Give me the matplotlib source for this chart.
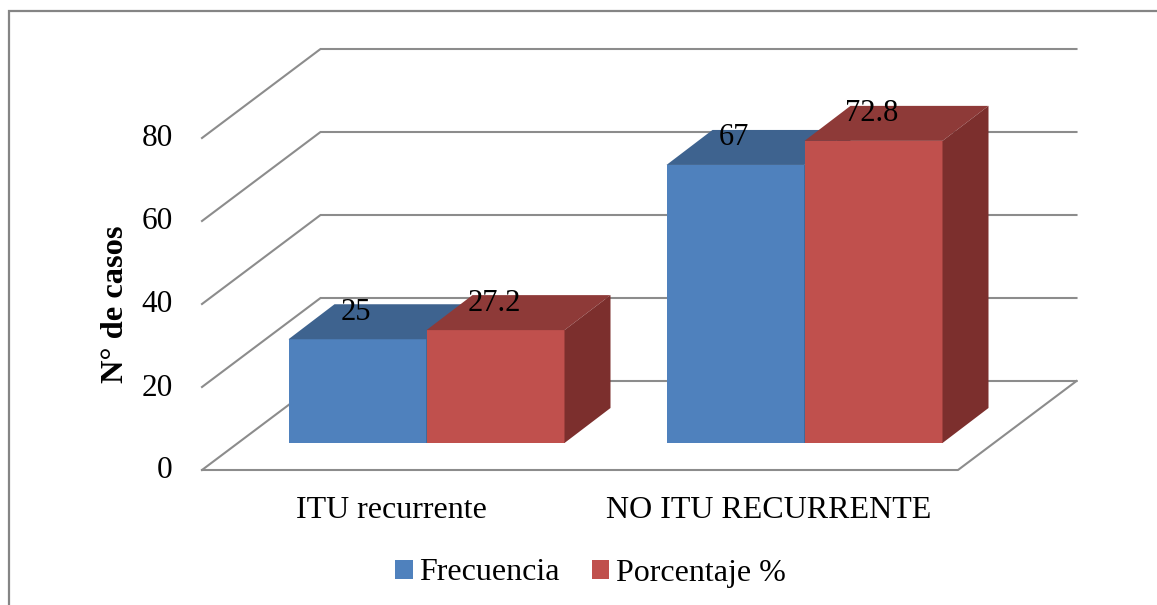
import matplotlib
matplotlib.use("Agg")
import matplotlib.pyplot as plt
from matplotlib.patches import Polygon, Rectangle, Patch
from matplotlib.transforms import ScaledTranslation

categories = ["ITU recurrente", "NO ITU RECURRENTE"]
frecuencia = [25, 67]
porcentaje = [27.2, 72.8]
yticks = [0, 20, 40, 60, 80]
series_names = ["Frecuencia", "Porcentaje %"]

W, H = 1157, 605
plt.rcParams["font.family"] = ["Liberation Serif", "DejaVu Serif"]
fig = plt.figure(figsize=(W / 100, H / 100), dpi=100, facecolor="white")

# front plane of the 3D box, in pixels
L, R, B, T = 202, 958, 470, 138
ax = fig.add_axes([L / W, 1 - B / H, (R - L) / W, (B - T) / H])
ax.set_xlim(-0.5, 1.5)
ax.set_ylim(0, 80)
ax.patch.set_visible(False)
for s in ax.spines.values():
    s.set_visible(False)

px_x = (R - L) / 2.0          # pixels per category
px_y = (B - T) / 80.0         # pixels per value unit
GRID = "#8c8c8c"
DX, DY = 118.5 / px_x, 89 / px_y      # whole floor depth
BAR_W = 138 / px_x
OX, OY = 35.5 / px_x, 27 / px_y       # bar front offset from the front plane
BX, BY = 46 / px_x, 35 / px_y         # bar depth

# walls and floor
for v in yticks:
    ax.plot([-0.5, -0.5 + DX, 1.5 + DX], [v, v + DY, v + DY], color=GRID, lw=1.5,
            clip_on=False, zorder=1, solid_joinstyle="miter")
ax.plot([-0.5, 1.5, 1.5 + DX], [0, 0, DY], color=GRID, lw=1.5, clip_on=False, zorder=1)


def box(xleft, v, face, top, side, z):
    x0, x1 = xleft + OX, xleft + OX + BAR_W
    ax.bar(x0, v, width=BAR_W, bottom=OY, align="edge", color=face, lw=0, clip_on=False, zorder=z)
    ytop = OY + v
    ax.add_patch(Polygon([(x0, ytop), (x1, ytop), (x1 + BX, ytop + BY), (x0 + BX, ytop + BY)],
                         closed=True, fc=top, ec="none", clip_on=False, zorder=z))
    ax.add_patch(Polygon([(x1, OY), (x1 + BX, OY + BY), (x1 + BX, ytop + BY), (x1, ytop)],
                         closed=True, fc=side, ec="none", clip_on=False, zorder=z))
    ax.annotate(f"{v:g}", (x0 + BAR_W / 2, ytop), xytext=(-1, 19.5), textcoords="offset points",
                ha="center", va="center", fontsize=22, color="black", zorder=10,
                annotation_clip=False)


BLUE, BLUE_T, BLUE_S = "#4F81BD", "#3E638F", "#335277"
RED, RED_T, RED_S = "#C0504D", "#8E3A38", "#7C2F2D"
for i in range(len(categories)):
    box(i - BAR_W, frecuencia[i], BLUE, BLUE_T, BLUE_S, 3 + i)
    box(i, porcentaje[i], RED, RED_T, RED_S, 3 + i + 0.5)

ax.set_xticks(range(len(categories)), categories)
ax.set_yticks(yticks)
ax.tick_params(axis="both", length=0, colors="black")
ax.tick_params(axis="y", pad=21, labelsize=22.5)
ax.tick_params(axis="x", pad=19, labelsize=23)
shift_up = ScaledTranslation(0, 2.5 / 100, fig.dpi_scale_trans)
for lab in ax.get_yticklabels():
    lab.set_transform(lab.get_transform() + shift_up)
ax.set_ylabel("N° de casos", fontsize=23.4, fontweight="bold")
ax.yaxis.set_label_coords((130 - L) / (R - L), (B - 304) / (B - T))

# outer chart frame: runs off the image on the right and bottom
fig.add_artist(Rectangle((8.5 / W, -0.05), 1.2, 1 - 11 / H + 0.05, transform=fig.transFigure,
                         fill=False, ec="#858585", lw=1.6, clip_on=True))

handles = [Patch(fc=BLUE, ec="none"), Patch(fc=RED, ec="none")]
fig.legend(handles, series_names, loc="center", bbox_to_anchor=(590.5 / W, 1 - 573 / H), ncol=2,
           frameon=False, fontsize=23, handlelength=0.55, handleheight=0.55,
           handletextpad=0.2, columnspacing=1.0)

fig.savefig("out.png", dpi=100, facecolor="white")
